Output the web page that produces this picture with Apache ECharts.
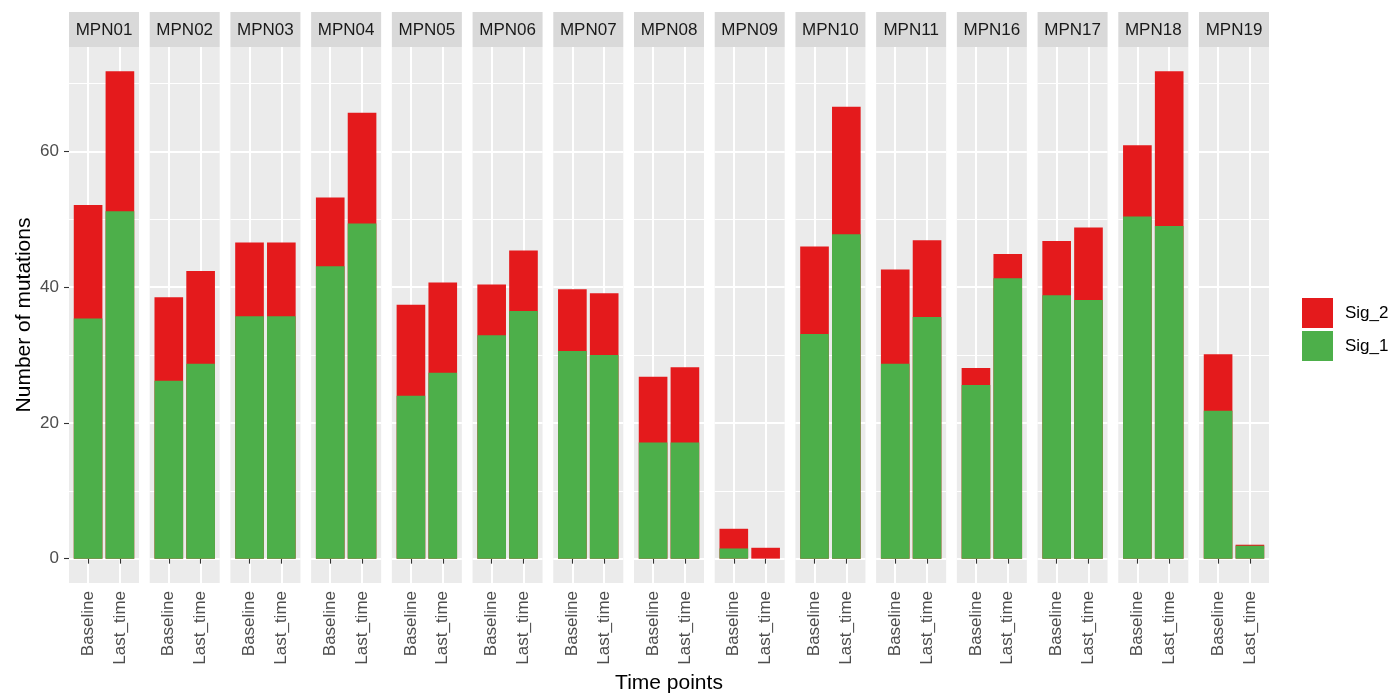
<!DOCTYPE html>
<html><head><meta charset="utf-8">
<script src="https://cdn.jsdelivr.net/npm/echarts@6/dist/echarts.min.js"></script>
<style>html,body{margin:0;padding:0;background:#fff}#c{width:1394px;height:695px}</style>
</head><body><div id="c"></div>
<script>
// ---- data ----
const patients = ['MPN01','MPN02','MPN03','MPN04','MPN05','MPN06','MPN07','MPN08','MPN09','MPN10','MPN11','MPN16','MPN17','MPN18','MPN19'];
const timePoints = ['Baseline','Last_time'];
const sig1Baseline = [35.4, 26.2, 35.7, 43.1, 24.0, 32.9, 30.6, 17.1, 1.5, 33.1, 28.7, 25.6, 38.8, 50.4, 21.8];
const sig2Baseline = [16.7, 12.3, 10.9, 10.1, 13.4, 7.5, 9.1, 9.7, 2.9, 12.9, 13.9, 2.5, 8.0, 10.5, 8.3];
const sig1Last = [51.2, 28.7, 35.7, 49.4, 27.4, 36.5, 30.0, 17.1, 0.0, 47.8, 35.6, 41.3, 38.1, 49.0, 1.9];
const sig2Last = [20.6, 13.7, 10.9, 16.3, 13.3, 8.9, 9.1, 11.1, 1.6, 18.8, 11.3, 3.6, 10.7, 22.8, 0.15];
const yTicks = [0, 20, 40, 60];
const seriesNames = ['Sig_2', 'Sig_1'];
const seriesColors = {Sig_2: '#E41A1C', Sig_1: '#4DAF4A'};

// ---- layout ----
const FONT = '"Liberation Sans", Arial, sans-serif';
const panelLeft = 69, panelRight = 1269, panelTop = 47, panelBottom = 583, stripTop = 12;
const n = patients.length;
const panelW = 70;
const step = (panelRight - panelLeft - panelW) / (n - 1);
const xMin = 0.4, xMax = 2.6;
const yMax = 71.8 * 1.05, yMin = -71.8 * 0.05;
const barW = 0.9 * panelW / (xMax - xMin);

const grids = [], xAxes = [], yAxes = [], series = [], graphics = [];
for (let i = 0; i < n; i++) {
  const left = panelLeft + i * step;
  grids.push({left: left, top: panelTop, width: panelW, height: panelBottom - panelTop,
    show: true, backgroundColor: '#EBEBEB', borderWidth: 0});
  xAxes.push({gridIndex: i, type: 'value', min: xMin, max: xMax, splitNumber: 2,
    axisLine: {show: false},
    axisTick: {show: true, customValues: [1, 2], length: 5, lineStyle: {color: '#333333', width: 1.1}},
    axisLabel: {customValues: [1, 2], rotate: 90, margin: 8, fontSize: 17, color: '#4D4D4D', fontFamily: FONT,
      formatter: v => (Math.abs(v - Math.round(v)) < 1e-6 && timePoints[Math.round(v) - 1]) || ''},
    splitLine: {show: true, lineStyle: {color: '#FFFFFF', width: 2}}
  });
  yAxes.push({gridIndex: i, type: 'value', min: yMin, max: yMax, splitNumber: 4,
    axisLine: {show: false},
    axisTick: {show: i === 0, customValues: yTicks, length: 5, lineStyle: {color: '#333333', width: 1.1}},
    axisLabel: {show: i === 0, customValues: yTicks, margin: 10,
      fontSize: 17, color: '#4D4D4D', fontFamily: FONT},
    splitLine: {show: true, lineStyle: {color: '#FFFFFF', width: 2}},
    minorTick: {show: false, splitNumber: 2},
    minorSplitLine: {show: true, lineStyle: {color: '#FFFFFF', width: 1}},
    name: i === 0 ? 'Number of mutations' : '', nameLocation: 'middle', nameGap: 34,
    nameTextStyle: {fontSize: 21, color: '#000000', fontFamily: FONT}
  });
  const totB = sig1Baseline[i] + sig2Baseline[i];
  const totL = sig1Last[i] + sig2Last[i];
  series.push({type: 'bar', name: 'Sig_2', xAxisIndex: i, yAxisIndex: i, barWidth: barW, barGap: '-100%',
    itemStyle: {color: seriesColors.Sig_2}, data: [[1, totB], [2, totL]]});
  series.push({type: 'bar', name: 'Sig_1', xAxisIndex: i, yAxisIndex: i, barWidth: barW, barGap: '-100%',
    itemStyle: {color: seriesColors.Sig_1}, data: [[1, sig1Baseline[i]], [2, sig1Last[i]]]});
  graphics.push({type: 'rect', shape: {x: left, y: stripTop, width: panelW, height: panelTop - stripTop},
    style: {fill: '#D9D9D9'}, silent: true});
  graphics.push({type: 'text', x: left + panelW / 2, y: (stripTop + panelTop) / 2 + 1,
    style: {text: patients[i], fill: '#1A1A1A', fontSize: 17, fontFamily: FONT, align: 'center', verticalAlign: 'middle'}});
}
graphics.push({type: 'text', x: (panelLeft + panelRight) / 2, y: 683,
  style: {text: 'Time points', fill: '#000000', fontSize: 21, fontFamily: FONT, align: 'center', verticalAlign: 'middle'}});

const chart = echarts.init(document.getElementById('c'), null, {renderer: 'canvas'});
chart.setOption({
  animation: false,
  backgroundColor: '#FFFFFF',
  grid: grids, xAxis: xAxes, yAxis: yAxes, series: series,
  legend: {orient: 'vertical', left: 1297, top: 293, itemWidth: 31, itemHeight: 30, itemGap: 3,
    icon: 'rect', data: seriesNames,
    textStyle: {fontSize: 17, color: '#000000', fontFamily: FONT, padding: [0, 0, 0, 7]}},
  graphic: graphics
});
</script></body></html>
